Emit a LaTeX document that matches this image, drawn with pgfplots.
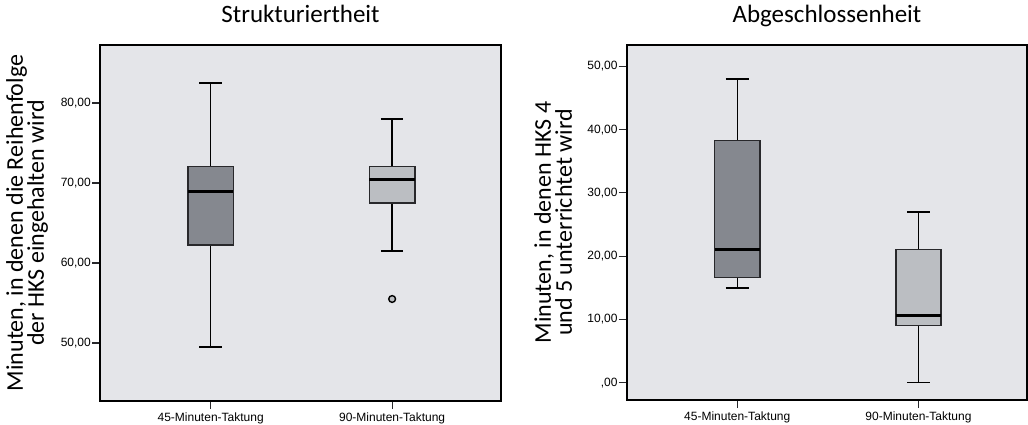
\documentclass[border=0pt]{standalone}
\usepackage{pgfplots}
\pgfplotsset{compat=1.18}
\usepgfplotslibrary{statistics}
\usepackage{fontspec}
\setmainfont{Liberation Sans}
\newfontfamily\carlito{Carlito}
\definecolor{bg}{RGB}{228,229,233}
\definecolor{darkbox}{RGB}{133,136,143}
\definecolor{lightbox}{RGB}{187,190,194}
\definecolor{edgecol}{RGB}{40,40,43}
\pgfplotsset{
  spssbox/.style={
    scale only axis,
    axis background/.style={fill=bg},
    axis line style={line width=1.8pt, black},
    xmin=0.39, xmax=2.6,
    xtick={1,2},
    xticklabels={45-Minuten-Taktung,90-Minuten-Taktung},
    tick align=outside,
    tick pos=left,
    major tick length=8pt,
    tick style={line width=1.2pt, edgecol},
    ticklabel style={font=\fontsize{12}{14}\selectfont, text=black},
    yticklabel style={inner sep=1pt,
      /pgf/number format/assume math mode=true,
      /pgf/number format/fixed, /pgf/number format/fixed zerofill,
      /pgf/number format/precision=2, /pgf/number format/use comma,
      /pgf/number format/1000 sep={}},
    yticklabel={\ifdim\tick pt=0pt ,00\else\pgfmathprintnumber{\tick}\fi},
    title style={font=\carlito\fontsize{25}{28}\selectfont,
      at={(axis description cs:0.5,1)}, anchor=base, yshift=16pt},
    ylabel style={font=\carlito\fontsize{24}{21}\selectfont, align=center, anchor=center},
    boxplot/draw direction=y,
    boxplot/box extend=0.25,
    boxplot/whisker extend=0.125,
    boxplot/every box/.style={draw=edgecol, line width=1.6pt},
    boxplot/every whisker/.style={draw=black, line width=1.4pt},
    boxplot/every median/.style={draw=black, line width=3pt},
  }
}
\begin{document}
\begin{tikzpicture}
\path[use as bounding box] (0pt,0pt) rectangle (1028pt,424pt);
\begin{axis}[spssbox,
  at={(100pt,23pt)}, anchor=south west,
  width=401pt, height=356pt,
  ymin=42.75, ymax=87.25,
  ytick={50,60,70,80},
  title={Strukturiertheit},
  ylabel={Minuten, in denen die Reihenfolge\\der HKS eingehalten wird},
  ylabel style={at={(axis description cs:-0.182,0.5)}},
]
\addplot[draw=edgecol, line width=1.5pt, fill=darkbox, boxplot prepared={draw position=1,
  lower whisker=49.5, lower quartile=62.25, median=69,
  upper quartile=72.05, upper whisker=82.5}] coordinates {};
\addplot[draw=edgecol, line width=1.5pt, fill=lightbox, mark=*, mark size=3.4pt,
  mark options={fill=lightbox, draw=black, line width=1.4pt},
  boxplot prepared={draw position=2,
  lower whisker=61.5, lower quartile=67.5, median=70.5,
  upper quartile=72.05, upper whisker=78}]
  table[row sep=\\, y index=0] {y\\ 55.5\\};
\end{axis}
\begin{axis}[spssbox,
  at={(626.7pt,24pt)}, anchor=south west,
  width=400.5pt, height=355pt,
  ymin=-2.73, ymax=53.37,
  ytick={0,10,20,30,40,50},
  title={Abgeschlossenheit},
  ylabel={Minuten, in denen HKS 4\\und 5 unterrichtet wird},
  ylabel style={at={(axis description cs:-0.184,0.5)}},
]
\addplot[draw=edgecol, line width=1.5pt, fill=darkbox, boxplot prepared={draw position=1,
  lower whisker=15, lower quartile=16.6, median=21.05,
  upper quartile=38.25, upper whisker=48}] coordinates {};
\addplot[draw=edgecol, line width=1.5pt, fill=lightbox, boxplot prepared={draw position=2,
  lower whisker=0, lower quartile=9.05, median=10.6,
  upper quartile=21.05, upper whisker=27}] coordinates {};
\end{axis}
\end{tikzpicture}
\end{document}
